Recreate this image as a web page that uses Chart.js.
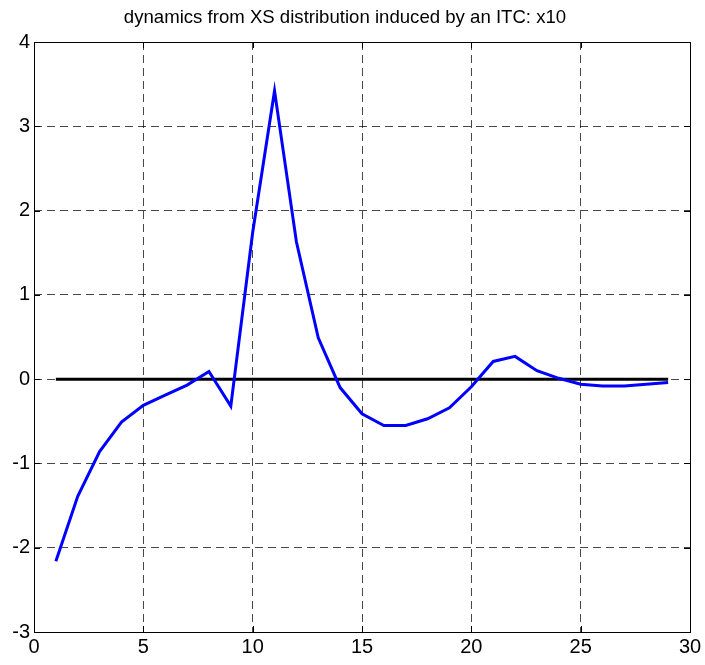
<!DOCTYPE html>
<html>
<head>
<meta charset="utf-8">
<script src="https://cdn.jsdelivr.net/npm/chart.js@4"></script>
<style>
  html, body { margin: 0; padding: 0; background: #fff; }
  #wrap { width: 705px; height: 665px; }
</style>
</head>
<body>
<div id="wrap"><canvas id="myChart"></canvas></div>
<script>
// data
const xValues = [1,2,3,4,5,6,7,8,9,10,11,12,13,14,15,16,17,18,19,20,21,22,23,24,25,26,27,28,29];
const dynValues = [-2.16,-1.39,-0.86,-0.51,-0.31,-0.19,-0.07,0.09,-0.32,1.74,3.42,1.63,0.49,-0.10,
  -0.41,-0.55,-0.55,-0.47,-0.34,-0.09,0.21,0.27,0.10,0.01,-0.06,-0.08,-0.08,-0.06,-0.04];
const zeroX = [1, 29];
const zeroY = [0, 0];
const xTicks = [0,5,10,15,20,25,30];
const yTicks = [-3,-2,-1,0,1,2,3,4];

const FONT = "'Liberation Sans', Arial, Helvetica, sans-serif";

// matlab style box + inward ticks
const boxPlugin = {
  id: "box",
  afterDatasetsDraw(chart) {
    const ctx = chart.ctx;
    const a = chart.chartArea;
    const xs = chart.scales.x, ys = chart.scales.y;
    ctx.save();
    ctx.strokeStyle = "#000";
    ctx.lineWidth = 1;
    ctx.setLineDash([]);
    ctx.strokeRect(Math.round(a.left) + 0.5, Math.round(a.top) + 0.5,
      Math.round(a.right - a.left), Math.round(a.bottom - a.top));
    ctx.beginPath();
    xTicks.forEach(v => {
      const px = Math.round(xs.getPixelForValue(v)) + 0.5;
      ctx.moveTo(px, a.bottom); ctx.lineTo(px, a.bottom - 6);
      ctx.moveTo(px, a.top); ctx.lineTo(px, a.top + 6);
    });
    yTicks.forEach(v => {
      const py = Math.round(ys.getPixelForValue(v)) + 0.5;
      ctx.moveTo(a.left, py); ctx.lineTo(a.left + 6, py);
      ctx.moveTo(a.right, py); ctx.lineTo(a.right - 6, py);
    });
    ctx.stroke();
    ctx.restore();
  }
};

new Chart("myChart", {
  type: "line",
  data: {
    datasets: [{
      data: xValues.map((x, i) => ({x: x, y: dynValues[i]})),
      borderColor: "#0000ff",
      borderWidth: 3,
      pointRadius: 0,
      tension: 0,
      fill: false
    }, {
      data: zeroX.map((x, i) => ({x: x, y: zeroY[i]})),
      borderColor: "#000",
      borderWidth: 3,
      pointRadius: 0,
      fill: false
    }]
  },
  options: {
    responsive: true,
    maintainAspectRatio: false,
    animation: false,
    layout: {padding: {left: 0, right: 15, top: 0, bottom: 0}},
    plugins: {
      legend: {display: false},
      tooltip: {enabled: false},
      title: {
        display: true,
        text: "dynamics from XS distribution induced by an ITC: x10",
        color: "#000",
        font: {family: FONT, size: 18.6, weight: "normal"},
        padding: {top: 7, bottom: 12.7}
      }
    },
    scales: {
      x: {
        type: "linear",
        min: 0, max: 30,
        afterBuildTicks(s) { s.ticks = xTicks.map(v => ({value: v})); },
        afterFit(s) { s.height = 33; },
        ticks: {color: "#000", font: {family: FONT, size: 20}, padding: 3, maxRotation: 0},
        grid: {color: "rgba(0,0,0,0.72)", lineWidth: 1, drawTicks: false},
        border: {display: false, dash: [8, 5]}
      },
      y: {
        min: -3, max: 4,
        afterBuildTicks(s) { s.ticks = yTicks.map(v => ({value: v})); },
        afterFit(s) { s.width = 34; },
        ticks: {color: "#000", font: {family: FONT, size: 20}, padding: 4},
        grid: {color: "rgba(0,0,0,0.72)", lineWidth: 1, drawTicks: false},
        border: {display: false, dash: [8, 5]}
      }
    }
  },
  plugins: [boxPlugin]
});
</script>
</body>
</html>
